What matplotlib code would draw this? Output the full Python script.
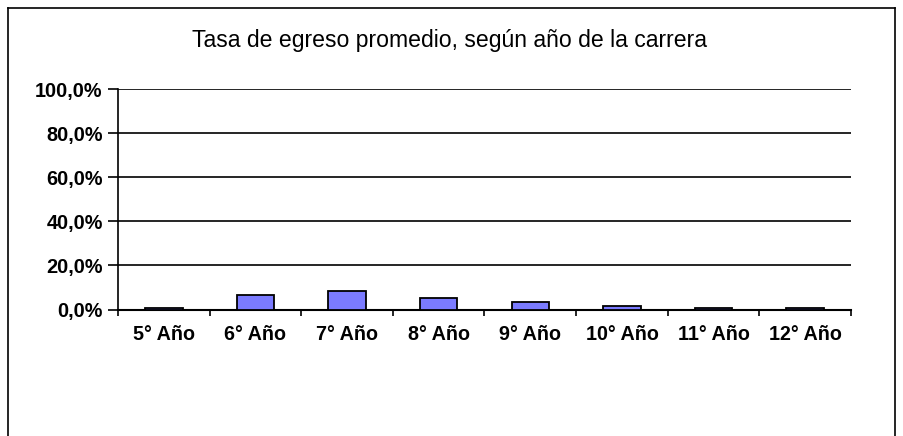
import matplotlib
matplotlib.use("Agg")
import matplotlib.pyplot as plt
from matplotlib.lines import Line2D
import numpy as np

categories = ["5° Año", "6° Año", "7° Año", "8° Año", "9° Año", "10° Año", "11° Año", "12° Año"]
values = [0.005, 0.065, 0.082, 0.054, 0.036, 0.018, 0.006, 0.006]
ytick_vals = [0.0, 0.2, 0.4, 0.6, 0.8, 1.0]
ytick_labels = ["0,0%", "20,0%", "40,0%", "60,0%", "80,0%", "100,0%"]
title = "Tasa de egreso promedio, según año de la carrera"

plt.rcParams['font.family'] = ['Liberation Sans', 'DejaVu Sans']

fig = plt.figure(figsize=(9.04, 4.36), dpi=100)
W, H = 904, 436

# outer frame (left, top, right)
fig.add_artist(Line2D([8 / W, 8 / W], [0, 1 - 8 / H], transform=fig.transFigure, color='black', lw=1.2))
fig.add_artist(Line2D([8 / W, 895 / W], [1 - 8 / H, 1 - 8 / H], transform=fig.transFigure, color='black', lw=1.2))
fig.add_artist(Line2D([895 / W, 895 / W], [0, 1 - 8 / H], transform=fig.transFigure, color='black', lw=1.2))

ax = fig.add_axes([118 / W, 1 - 309.5 / H, (851 - 118) / W, (309.5 - 89.3) / H])
x = np.arange(len(categories))
ax.bar(x, values, width=0.41, color='#7b7bff', edgecolor='black', linewidth=1.3, zorder=3)
ax.set_xlim(-0.5, len(categories) - 0.5)
ax.set_ylim(0, 1.0)
ax.set_yticks(ytick_vals)
ax.set_yticklabels(ytick_labels, fontsize=14.3, fontweight='bold')
ax.yaxis.grid(True, color='black', lw=1.2, zorder=0)
ax.set_axisbelow(True)
ax.set_xticks(x)
ax.set_xticklabels(categories, fontsize=14.2, fontweight='bold')
ax.tick_params(axis='x', length=0, pad=11)
ax.set_xticks(np.arange(len(categories) + 1) - 0.5, minor=True)
ax.tick_params(axis='x', which='minor', length=4, width=1.2, direction='out')
ax.tick_params(axis='y', length=7, width=1.2, direction='out', pad=4)
for s in ['top', 'right']:
    ax.spines[s].set_visible(False)
ax.spines['left'].set_linewidth(1.2)
ax.spines['bottom'].set_linewidth(1.5)

fig.text(450 / W, 1 - 41 / H, title, ha='center', va='center', fontsize=16.6)

fig.savefig("out.png", dpi=100)
